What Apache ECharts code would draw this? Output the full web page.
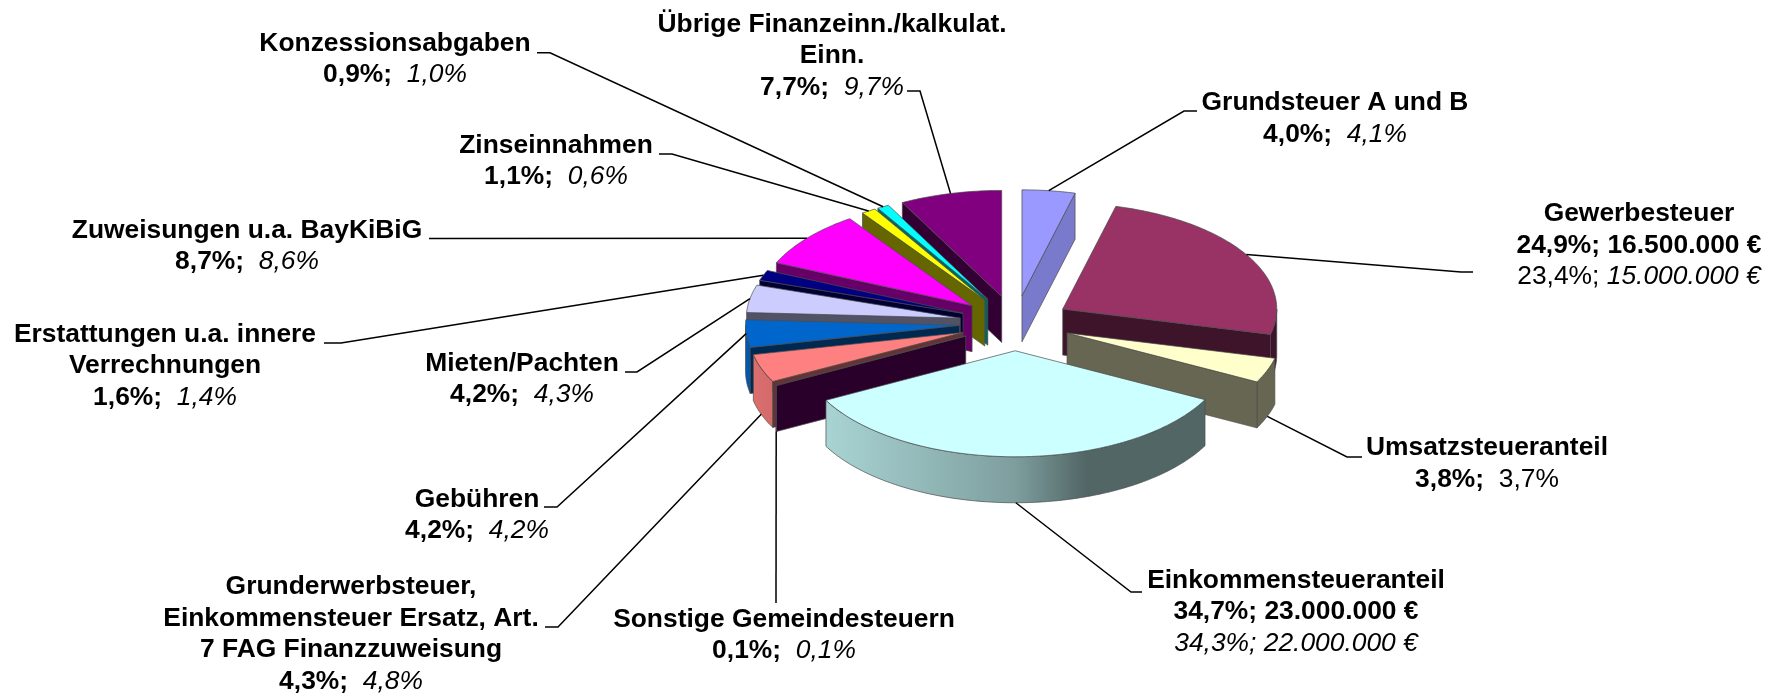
<!DOCTYPE html>
<html>
<head>
<meta charset="utf-8">
<title>Einnahmen</title>
<style>
html, body { margin: 0; padding: 0; background: #fff; }
#main { width: 1777px; height: 694px; }
</style>
<script src="https://cdn.jsdelivr.net/npm/echarts@6/dist/echarts.min.js"></script>
</head>
<body>
<div id="main"></div>
<script>
// clockwise from 12 o'clock
var categories = [
  'Grundsteuer A und B', 'Gewerbesteuer', 'Umsatzsteueranteil', 'Einkommensteueranteil',
  'Sonstige Gemeindesteuern', 'Grunderwerbsteuer,\nEinkommensteuer Ersatz, Art.\n7 FAG Finanzzuweisung',
  'Gebühren', 'Mieten/Pachten', 'Erstattungen u.a. innere\nVerrechnungen', 'Zuweisungen u.a. BayKiBiG',
  'Zinseinnahmen', 'Konzessionsabgaben', 'Übrige Finanzeinn./kalkulat.\nEinn.'
]
var shareNew = [4.0, 24.9, 3.8, 34.7, 0.1, 4.3, 4.2, 4.2, 1.6, 8.7, 1.1, 0.9, 7.7]
var shareOld = [4.1, 23.4, 3.7, 34.3, 0.1, 4.8, 4.2, 4.3, 1.4, 8.6, 0.6, 1.0, 9.7]
var amountNew = [null, '16.500.000 €', null, '23.000.000 €', null, null, null, null, null, null, null, null, null]
var amountOld = [null, '15.000.000 €', null, '22.000.000 €', null, null, null, null, null, null, null, null, null]

var colors = ['#9999ff', '#993366', '#ffffcc', '#ccffff', '#660066', '#ff8080', '#0066cc',
  '#ccccff', '#000080', '#ff00ff', '#ffff00', '#00ffff', '#800080']

// back to front
var drawOrder = [12, 11, 10, 9, 8, 7, 6, 5, 4, 0, 1, 2, 3]

// pie projection
var cx = 1015
var cy = 323.2
var rx = 214
var ry = 106
var depth = 46
var explode = 0.26

// label centre
var labelX = [1335, 1639, 1487, 1296, 784, 351, 477, 522, 165, 247, 556, 395, 832]
var labelY = [118.5, 245.5, 463.5, 612, 635, 634, 515, 379, 366, 246, 161, 59, 56]
// leader line, from the label side up to the elbow
var leaderStart = [
  [[1197, 111], [1184, 111]],
  [[1473, 272], [1461, 272]],
  [[1362, 457], [1347, 457]],
  [[1142, 592], [1131, 592]],
  [[776, 603], [776, 603]],
  [[545, 627], [558, 627]],
  [[544, 507], [557, 507]],
  [[625, 372], [637, 372]],
  [[324, 343], [341, 343]],
  [[429, 238.5], [429, 238.5]],
  [[659, 154], [672, 154]],
  [[537, 52.7], [550, 52.7]],
  [[907, 91], [920, 91]]
]

var total = shareNew.reduce(function(a, b) { return a + b }, 0)
var angles = []
var run = 0
shareNew.forEach(function(v) {
  var start = run / total * Math.PI * 2
  run += v
  angles.push([start, run / total * Math.PI * 2])
})

function shade(hex, k) {
  var n = parseInt(hex.slice(1), 16)
  var r = Math.round((n >> 16) * k)
  var g = Math.round(((n >> 8) & 255) * k)
  var b = Math.round((n & 255) * k)
  return 'rgb(' + r + ',' + g + ',' + b + ')'
}

function apexOf(i) {
  var mid = (angles[i][0] + angles[i][1]) / 2
  return [cx + explode * rx * Math.sin(mid), cy - explode * ry * Math.cos(mid)]
}

function rim(apex, t) {
  return [apex[0] + rx * Math.sin(t), apex[1] - ry * Math.cos(t)]
}

function arcPoints(apex, t0, t1) {
  var pts = []
  var n = Math.max(2, Math.ceil((t1 - t0) / 0.015))
  for (var k = 0; k <= n; k++) pts.push(rim(apex, t0 + (t1 - t0) * k / n))
  return pts
}

function down(p) {
  return [p[0], p[1] + depth]
}

var edgeStyle = { stroke: '#4a4a4a', lineWidth: 0.7 }

function sideFill(color, apex) {
  // light comes from the left, the right side of the drum falls into shade
  var stops = [[0, 0.87], [0.055, 0.83], [0.5, 0.62], [0.665, 0.4], [1, 0.4]]
  return new echarts.graphic.LinearGradient(apex[0] - rx, 0, apex[0] + rx, 0, stops.map(function(s) {
    return { offset: s[0], color: shade(color, s[1]) }
  }), true)
}

function renderSlice(params) {
  var i = drawOrder[params.dataIndex]
  var t0 = angles[i][0]
  var t1 = angles[i][1]
  var color = colors[i]
  var apex = apexOf(i)
  var children = []
  var z = params.dataIndex * 10

  function poly(points, fill, order) {
    children.push({
      type: 'polygon',
      z2: z + order,
      shape: { points: points },
      style: { fill: fill, stroke: edgeStyle.stroke, lineWidth: edgeStyle.lineWidth }
    })
  }

  // outer wall, only the part on the viewer's side
  var w0 = Math.max(t0, Math.PI / 2)
  var w1 = Math.min(t1, Math.PI * 1.5)
  if (w1 > w0) {
    var arc = arcPoints(apex, w0, w1)
    poly(arc.concat(arc.map(down).reverse()), sideFill(color, apex), 0)
  }

  // cut faces
  function cut(t, nx) {
    var p = rim(apex, t)
    poly([apex, p, down(p), down(apex)], shade(color, nx > 0.6 ? 0.8 : 0.4), 1)
  }
  if (Math.sin(t1) > 0.001) cut(t1, Math.cos(t1))
  if (Math.sin(t0) < -0.001) cut(t0, -Math.cos(t0))

  poly([apex].concat(arcPoints(apex, t0, t1)), color, 2)

  return { type: 'group', children: children }
}

function pct(v) {
  return v.toFixed(1).replace('.', ',') + '%'
}

function labelText(i) {
  var lines = categories[i].split('\n').map(function(l) { return '{b|' + l + '}' })
  if (amountNew[i]) {
    lines.push('{b|' + pct(shareNew[i]) + '; ' + amountNew[i] + '}')
    // the two big items carry their previous year amount on a line of its own
    if (i === 1) lines.push('{n|' + pct(shareOld[i]) + ';}{i| ' + amountOld[i] + '}')
    else lines.push('{i|' + pct(shareOld[i]) + '; ' + amountOld[i] + '}')
  } else {
    var oldStyle = i === 2 ? 'n' : 'i'
    lines.push('{b|' + pct(shareNew[i]) + '; }{' + oldStyle + '| ' + pct(shareOld[i]) + '}')
  }
  return lines.join('\n')
}

var fontFamily = '"Liberation Sans", Arial, sans-serif'
var fontSize = 26.4
var lineH = 31.5

function renderLabel(params) {
  var i = params.dataIndex
  var mid = (angles[i][0] + angles[i][1]) / 2
  var end = rim(apexOf(i), mid)
  if (Math.cos(mid) < -0.1) end = down(end)
  return {
    type: 'group',
    children: [{
      type: 'polyline',
      z2: 500,
      shape: { points: leaderStart[i].concat([end]) },
      style: { fill: null, stroke: '#000', lineWidth: 1.5 }
    }, {
      type: 'text',
      z2: 510,
      style: {
        x: labelX[i],
        y: labelY[i],
        text: labelText(i),
        align: 'center',
        verticalAlign: 'middle',
        rich: {
          b: { fontFamily: fontFamily, fontSize: fontSize, fontWeight: 'bold', fill: '#000', lineHeight: lineH },
          n: { fontFamily: fontFamily, fontSize: fontSize, fill: '#000', lineHeight: lineH },
          i: { fontFamily: fontFamily, fontSize: fontSize, fontStyle: 'italic', fill: '#000', lineHeight: lineH }
        }
      }
    }]
  }
}

var chart = echarts.init(document.getElementById('main'))
chart.setOption({
  animation: false,
  backgroundColor: '#fff',
  series: [
    {
      type: 'custom',
      coordinateSystem: 'none',
      renderItem: renderSlice,
      data: drawOrder.map(function(i) { return [i, shareNew[i]] })
    },
    {
      type: 'custom',
      coordinateSystem: 'none',
      renderItem: renderLabel,
      data: categories.map(function(c, i) { return { name: c, value: [shareNew[i], shareOld[i]] } })
    }
  ]
})
</script>
</body>
</html>
